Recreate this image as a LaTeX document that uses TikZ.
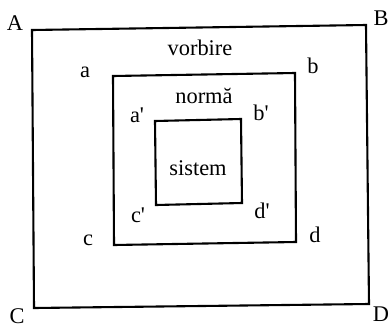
\documentclass[tikz,border=0pt]{standalone}
\usepackage{fontspec}
\setmainfont{Liberation Serif}[Ligatures=TeXOff]
\begin{document}
\begin{tikzpicture}[x=1bp,y=-1bp,
  frame/.style={draw=black,line width=2.1bp,line join=miter},
  lbl/.style={anchor=base,inner sep=0pt,font=\fontsize{22.5}{26}\selectfont}]
\useasboundingbox (0,0) rectangle (388,328);
% outer
\coordinate (o1) at (32,30);
\coordinate (o2) at (366,25);
\coordinate (o3) at (369,304);
\coordinate (o4) at (34,308);
% middle
\coordinate (m1) at (113,76);
\coordinate (m2) at (295,73);
\coordinate (m3) at (296,242);
\coordinate (m4) at (114,245);
% inner
\coordinate (i1) at (155,121);
\coordinate (i2) at (241,119);
\coordinate (i3) at (242,203);
\coordinate (i4) at (156,205);
\draw[frame] (o1) -- (o2) -- (o3) -- (o4) -- cycle;
\draw[frame] (m1) -- (m2) -- (m3) -- (m4) -- cycle;
\draw[frame] (i1) -- (i2) -- (i3) -- (i4) -- cycle;
\node[lbl] (A) at (15,30) {A};
\node[lbl] (B) at (381,25) {B};
\node[lbl] (C) at (17,323) {C};
\node[lbl] (D) at (381,321) {D};
\node[lbl] (vorbire) at (200,55) {vorbire};
\node[lbl] (norma) at (204,103) {normă};
\node[lbl] (sistem) at (198,175) {sistem};
\node[lbl] (a) at (85,77) {a};
\node[lbl] (b) at (313,73) {b};
\node[lbl] (c) at (88,245) {c};
\node[lbl] (d) at (315,242) {d};
\node[lbl] (a1) at (137,122) {a'};
\node[lbl] (b1) at (261,120) {b'};
\node[lbl] (c1) at (138,222) {c'};
\node[lbl] (d1) at (262,218) {d'};
\end{tikzpicture}
\end{document}
